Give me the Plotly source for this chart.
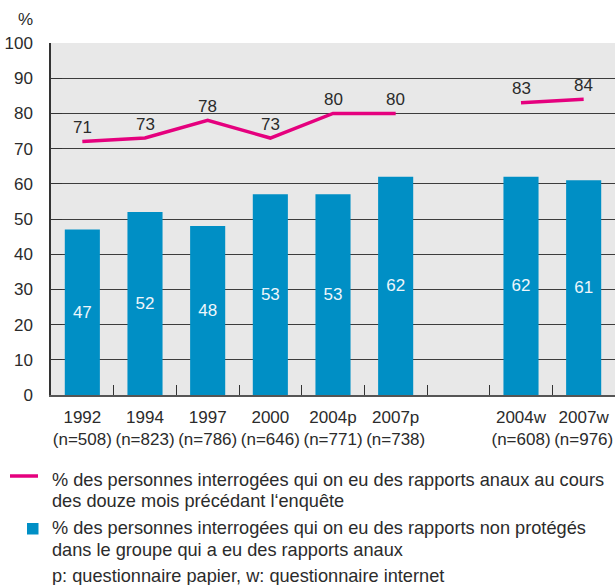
import plotly.graph_objects as go

categories = ["1992<br>(n=508)", "1994<br>(n=823)", "1997<br>(n=786)", "2000<br>(n=646)",
              "2004p<br>(n=771)", "2007p<br>(n=738)", " ", "2004w<br>(n=608)", "2007w<br>(n=976)"]
bar_values = [47, 52, 48, 57, 57, 62, None, 62, 61]
bar_labels = ["47", "52", "48", "53", "53", "62", "", "62", "61"]
line_values = [72, 73, 78, 73, 80, 80, None, 83, 84]
line_labels = ["71", "73", "78", "73", "80", "80", "", "83", "84"]
y_ticks = [0, 10, 20, 30, 40, 50, 60, 70, 80, 90, 100]

legend_line_text = ["% des personnes interrogées qui on eu des rapports anaux au cours",
                    "des douze mois précédant l\u2018enquête"]
legend_bar_text = ["% des personnes interrogées qui on eu des rapports non protégés",
                   "dans le groupe qui a eu des rapports anaux"]
footnote = "p: questionnaire papier, w: questionnaire internet"

BLUE = "#008fc5"
MAGENTA = "#e5007e"
TEXT = "#2b2b2b"
FONT = "Liberation Sans"

W, H = 615, 585
ML, MR, MT, MB = 51, 0, 43, 190
PW, PH = W - ML - MR, H - MT - MB


def px(x):
    return (x - ML) / PW


def py(y):
    return (H - MB - y) / PH


fig = go.Figure()
fig.add_trace(go.Bar(
    x=categories, y=bar_values, width=0.56, marker_color=BLUE, marker_line_width=0,
    text=bar_labels, textposition="inside", insidetextanchor="middle", textangle=0,
    textfont=dict(color="#eef6fb", size=17, family=FONT), cliponaxis=False,
    showlegend=False, hoverinfo="skip"))
fig.add_trace(go.Scatter(
    x=categories, y=line_values, mode="lines", line=dict(color=MAGENTA, width=3.5),
    connectgaps=False, showlegend=False, hoverinfo="skip"))

annotations = []
for c, v, t in zip(categories, line_values, line_labels):
    if v is None:
        continue
    annotations.append(dict(x=c, y=v, xref="x", yref="y", text=t, showarrow=False,
                            yanchor="middle", yshift=14,
                            font=dict(size=17, color=TEXT, family=FONT)))

annotations.append(dict(x=px(25.5), y=py(19), xref="paper", yref="paper", text="%",
                        showarrow=False, xanchor="center", yanchor="middle",
                        font=dict(size=17, color=TEXT, family=FONT)))

for txt, yy in zip(legend_line_text + legend_bar_text + [footnote], [479.5, 500.5, 527.5, 549.5, 575.5]):
    annotations.append(dict(x=px(50), y=py(yy), xref="paper", yref="paper", text=txt,
                            showarrow=False, xanchor="left", yanchor="middle",
                            font=dict(size=18.2, color=TEXT, family=FONT)))

shapes = [
    dict(type="line", xref="paper", yref="paper", x0=px(10), x1=px(38), y0=py(476), y1=py(476),
         line=dict(color=MAGENTA, width=3.5)),
    dict(type="rect", xref="paper", yref="paper", x0=px(27), x1=px(38.5), y0=py(523), y1=py(534.5),
         fillcolor=BLUE, line=dict(width=0)),
]

fig.update_layout(
    width=W, height=H,
    margin=dict(l=ML, r=MR, t=MT, b=MB, pad=0, autoexpand=False),
    paper_bgcolor="white", plot_bgcolor="#e8e8e8",
    font=dict(family=FONT, size=17, color=TEXT),
    bargap=0.44,
    annotations=annotations, shapes=shapes,
    xaxis=dict(type="category", categoryorder="array", categoryarray=categories,
               range=[-0.5, len(categories) - 0.5], automargin=False, tickangle=0,
               showgrid=False, showline=True, linecolor="#555555", linewidth=1.5,
               ticks="inside", tickson="boundaries", ticklen=10, tickwidth=1.3, tickcolor="#333333",
               tickfont=dict(size=17, color=TEXT, family=FONT), ticklabelstandoff=6,
               fixedrange=True),
    yaxis=dict(range=[0, 100], tickvals=y_ticks, showgrid=True, gridcolor="#3c3c3c", gridwidth=1.4,
               zeroline=False, showline=True, linecolor="#333333", linewidth=1.5, automargin=False,
               ticks="inside", ticklen=11, tickwidth=1.4, tickcolor="#333333",
               tickfont=dict(size=17, color=TEXT, family=FONT), ticklabelstandoff=13,
               fixedrange=True),
)

fig.write_html("out.html", config={"displayModeBar": False},
               post_script="document.body.style.margin='0';document.body.style.overflow='hidden';")
